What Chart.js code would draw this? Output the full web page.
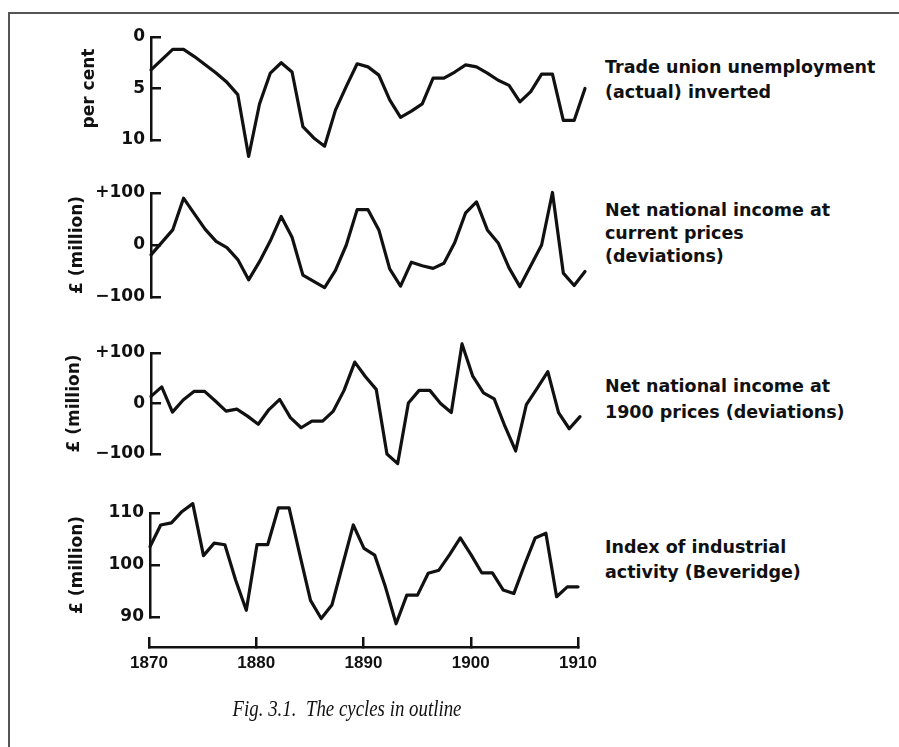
<!DOCTYPE html>
<html>
<head>
<meta charset="utf-8">
<script src="https://cdn.jsdelivr.net/npm/chart.js@4.4.1/dist/chart.umd.min.js"></script>
<style>
  html, body { margin: 0; padding: 0; background: #fff; }
  body { width: 899px; height: 747px; position: relative; overflow: hidden; }
  .frame { position: absolute; left: 8px; top: 12px; width: 900px; height: 750px; border-left: 2px solid #555; border-top: 2px solid #555; }
  canvas { position: absolute; left: 0; }
  .lbl { position: absolute; left: 605px; font-family: "DejaVu Sans"; font-weight: bold; font-size: 17.5px; color: #111; white-space: nowrap; }
  .caption { position: absolute; left: 0; width: 694px; top: 694px; text-align: center; font-family: "Liberation Serif"; font-style: italic; font-size: 23px; line-height: 30px; color: #111; transform: scaleX(0.82); transform-origin: 347px 50%; }
</style>
</head>
<body>
<div class="frame"></div>
<canvas id="p1" width="600" height="180" style="top:0px"></canvas>
<canvas id="p2" width="600" height="150" style="top:170px"></canvas>
<canvas id="p3" width="600" height="160" style="top:325px"></canvas>
<canvas id="p4" width="600" height="140" style="top:490px"></canvas>
<canvas id="axis" width="600" height="90" style="top:600px"></canvas>

<div class="lbl" style="top:55px; line-height:25px">Trade union unemployment<br>(actual) inverted</div>
<div class="lbl" style="top:199px; line-height:23px">Net national income at<br>current prices<br>(deviations)</div>
<div class="lbl" style="top:373px; line-height:26px">Net national income at<br>1900 prices (deviations)</div>
<div class="lbl" style="top:535px; line-height:25px">Index of industrial<br>activity (Beveridge)</div>
<div class="caption">Fig. 3.1.&nbsp; The cycles in outline</div>

<script>
// Años
const years = [1870, 1871, 1872, 1873, 1874, 1875, 1876, 1877, 1878, 1879,
               1880, 1881, 1882, 1883, 1884, 1885, 1886, 1887, 1888, 1889,
               1890, 1891, 1892, 1893, 1894, 1895, 1896, 1897, 1898, 1899,
               1900, 1901, 1902, 1903, 1904, 1905, 1906, 1907, 1908, 1909, 1910];
const yearTicks = [1870, 1880, 1890, 1900, 1910];

// Series
const unemployment = [3.2, 2.2, 1.2, 1.2, 1.9, 2.7, 3.5, 4.4, 5.6, 11.6,
                      6.5, 3.5, 2.5, 3.4, 8.7, 9.8, 10.6, 7.1, 4.8, 2.6,
                      2.9, 3.7, 6.1, 7.8, 7.2, 6.5, 4.0, 4.0, 3.4, 2.7,
                      2.9, 3.5, 4.2, 4.7, 6.3, 5.3, 3.6, 3.6, 8.1, 8.1, 5.0];
const incomeCurrent = [-19, 5, 29, 90, 60, 30, 7, -5, -28, -67,
                       -32, 8, 55, 15, -58, -70, -82, -49, 0, 68,
                       68, 29, -46, -79, -33, -40, -45, -35, 5, 62,
                       83, 29, 4, -44, -80, -40, 0, 101, -54, -78, -51];
const income1900 = [14, 33, -17, 7, 24, 24, 5, -15, -11, -25,
                    -41, -12, 8, -28, -48, -35, -35, -15, 26, 82,
                    53, 28, -100, -119, 1, 26, 26, 0, -18, 118,
                    54, 21, 9, -45, -94, -2, 30, 63, -18, -50, -26];
const industry = [103.5, 107.7, 108.1, 110.3, 111.8, 101.8, 104.2, 103.9, 97.1, 91.3,
                  103.9, 103.9, 111.0, 111.0, 102.0, 93.2, 89.7, 92.3, 100.0, 107.7,
                  103.2, 101.9, 95.8, 88.7, 94.2, 94.2, 98.4, 99.0, 102.0, 105.2,
                  102.0, 98.5, 98.5, 95.2, 94.5, 100.0, 105.2, 106.1, 93.9, 95.8, 95.8];

// Marcas de los ejes
const unemploymentTicks = [0, 5, 10];
const unemploymentTickLabels = ['0', '5', '10'];
const incomeTicks = [-100, 0, 100];
const incomeTickLabels = ['\u2212100', '0', '+100'];
const industryTicks = [90, 100, 110];
const industryTickLabels = ['90', '100', '110'];

const INK = '#111';
const FONT = { family: 'DejaVu Sans', size: 17, weight: 'bold' };

// Crear un panel
function createPanel(id, values, opts) {
    const ctx = document.getElementById(id).getContext('2d');
    return new Chart(ctx, {
        type: 'line',
        data: {
            datasets: [{
                data: years.map((y, i) => ({ x: y, y: values[i] })),
                borderColor: INK,
                borderWidth: 3.2,
                borderJoinStyle: 'round',
                borderCapStyle: 'round',
                pointRadius: 0,
                tension: 0,
                clip: false
            }]
        },
        options: {
            responsive: false,
            animation: false,
            layout: { padding: opts.padding },
            plugins: { legend: { display: false }, tooltip: { enabled: false } },
            scales: {
                x: { type: 'linear', min: 1870, max: 1910, display: false },
                y: {
                    min: opts.min,
                    max: opts.max,
                    reverse: !!opts.reverse,
                    afterBuildTicks: s => { s.ticks = opts.ticks.map(v => ({ value: v })); },
                    afterFit: s => { s.width = opts.axisX; s.paddingTop = 0; s.paddingBottom = 0; },
                    border: { display: true, color: INK, width: 2.5 },
                    grid: { drawOnChartArea: false, color: INK, lineWidth: 2.5, tickLength: -10 },
                    ticks: {
                        color: INK,
                        font: FONT,
                        padding: 16,
                        callback: v => opts.labels[opts.ticks.indexOf(v)]
                    },
                    title: {
                        display: true,
                        text: opts.title,
                        color: INK,
                        font: FONT,
                        padding: { top: opts.titlePad, bottom: 0 }
                    }
                }
            }
        }
    });
}

createPanel('p1', unemployment, {
    min: 0, max: 10, reverse: true,
    ticks: unemploymentTicks, labels: unemploymentTickLabels,
    title: 'per cent', titlePad: 79, axisX: 151,
    padding: { top: 37, bottom: 40, left: 0, right: 15 }
});
createPanel('p2', incomeCurrent, {
    min: -100, max: 100,
    ticks: incomeTicks, labels: incomeTickLabels,
    title: '\u00a3 (million)', titlePad: 67, axisX: 151,
    padding: { top: 23, bottom: 23, left: 0, right: 15 }
});
createPanel('p3', income1900, {
    min: -100, max: 100,
    ticks: incomeTicks, labels: incomeTickLabels,
    title: '\u00a3 (million)', titlePad: 64, axisX: 151,
    padding: { top: 28, bottom: 31, left: 0, right: 20 }
});
createPanel('p4', industry, {
    min: 90, max: 110,
    ticks: industryTicks, labels: industryTickLabels,
    title: '\u00a3 (million)', titlePad: 67, axisX: 150,
    padding: { top: 23, bottom: 13, left: 0, right: 22 }
});

// Eje de años
new Chart(document.getElementById('axis').getContext('2d'), {
    type: 'line',
    data: { datasets: [] },
    options: {
        responsive: false,
        animation: false,
        layout: { padding: { top: 0, bottom: 3, left: 149, right: 22 } },
        plugins: { legend: { display: false }, tooltip: { enabled: false } },
        scales: {
            x: {
                type: 'linear', min: 1870, max: 1910, position: 'bottom',
                afterBuildTicks: s => { s.ticks = yearTicks.map(v => ({ value: v })); },
                afterFit: s => { s.height = 40; s.paddingLeft = 0; s.paddingRight = 0; },
                border: { display: true, color: INK, width: 2.5 },
                grid: { drawOnChartArea: false, color: INK, lineWidth: 2.5, tickLength: -10 },
                ticks: {
                    color: INK,
                    font: { family: 'Liberation Sans', size: 17, weight: 'bold' },
                    padding: 16,
                    maxRotation: 0,
                    callback: v => String(v)
                }
            },
            y: { display: false, min: 0, max: 1 }
        }
    }
});
</script>
</body>
</html>
